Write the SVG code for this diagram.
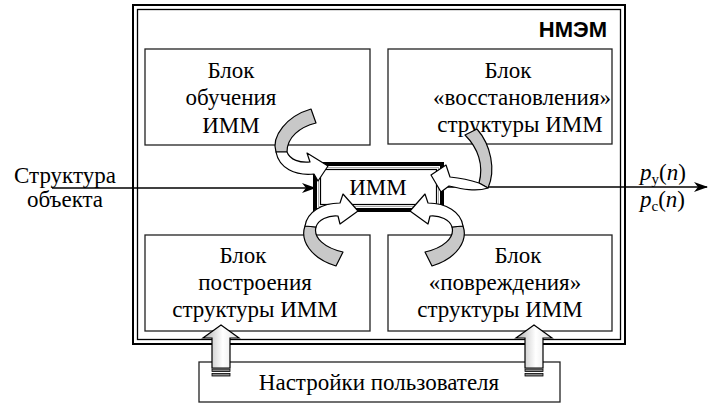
<svg xmlns="http://www.w3.org/2000/svg" width="708" height="405" viewBox="0 0 708 405">
<defs>
<linearGradient id="ug" x1="0" y1="0" x2="1" y2="0">
<stop offset="0" stop-color="#b0b0b0"/>
<stop offset="0.55" stop-color="#ffffff"/>
<stop offset="1" stop-color="#e0e0e0"/>
</linearGradient>
<marker id="ah" viewBox="0 0 14 10" refX="13" refY="5" markerWidth="14" markerHeight="10" markerUnits="userSpaceOnUse" orient="auto">
<path d="M0,0 L14,5 L0,10 L4,5 Z" fill="#000"/>
</marker>
</defs>
<rect width="708" height="405" fill="#fff"/>

<g id="nmem">
<rect x="133" y="5" width="492" height="339" fill="none" stroke="#000" stroke-width="2"/>
<rect x="137.5" y="9.5" width="483" height="330" fill="none" stroke="#000" stroke-width="1.3"/>
<text x="607" y="37" text-anchor="end" font-family="'Liberation Sans'" font-size="22" font-weight="bold">НМЭМ</text>
</g>

<g id="block-learn" fill="#000">
<rect x="145" y="49" width="225" height="96" fill="#fff" stroke="#222" stroke-width="1.3"/>
<text x="231" y="78" text-anchor="middle" font-family="'Liberation Serif'" font-size="23">Блок</text>
<text x="231" y="105" text-anchor="middle" font-family="'Liberation Serif'" font-size="23">обучения</text>
<text x="231" y="133" text-anchor="middle" font-family="'Liberation Serif'" font-size="23">ИММ</text>
</g>

<g id="block-restore">
<rect x="388" y="49" width="224" height="95" fill="#fff" stroke="#222" stroke-width="1.3"/>
<text x="508" y="78" text-anchor="middle" font-family="'Liberation Serif'" font-size="23">Блок</text>
<text x="522" y="105" text-anchor="middle" font-family="'Liberation Serif'" font-size="23">«восстановления»</text>
<text x="520" y="132" text-anchor="middle" font-family="'Liberation Serif'" font-size="23">структуры ИММ</text>
</g>

<g id="block-build">
<rect x="145" y="235" width="225" height="96" fill="#fff" stroke="#222" stroke-width="1.3"/>
<text x="243" y="263" text-anchor="middle" font-family="'Liberation Serif'" font-size="23">Блок</text>
<text x="255" y="290" text-anchor="middle" font-family="'Liberation Serif'" font-size="23">построения</text>
<text x="255" y="317" text-anchor="middle" font-family="'Liberation Serif'" font-size="23">структуры ИММ</text>
</g>

<g id="block-damage">
<rect x="388" y="235" width="224" height="96" fill="#fff" stroke="#222" stroke-width="1.3"/>
<text x="518" y="263" text-anchor="middle" font-family="'Liberation Serif'" font-size="23">Блок</text>
<text x="505" y="290" text-anchor="middle" font-family="'Liberation Serif'" font-size="23">«повреждения»</text>
<text x="500" y="317" text-anchor="middle" font-family="'Liberation Serif'" font-size="23">структуры ИММ</text>
</g>

<g id="settings">
<rect x="199" y="362" width="361" height="40" fill="#fff" stroke="#222" stroke-width="1.3"/>
<text x="379" y="390" text-anchor="middle" font-family="'Liberation Serif'" font-size="23">Настройки пользователя</text>
</g>

<g id="input-label">
<text x="65" y="183" text-anchor="middle" font-family="'Liberation Serif'" font-size="23">Структура</text>
<text x="65" y="207" text-anchor="middle" font-family="'Liberation Serif'" font-size="23">объекта</text>
</g>

<g id="output-label">
<text x="640" y="180" font-family="'Liberation Serif'" font-size="23"><tspan font-style="italic">p</tspan><tspan font-size="15" dy="4">у</tspan><tspan dy="-4">(</tspan><tspan font-style="italic">n</tspan>)</text>
<text x="640" y="207" font-family="'Liberation Serif'" font-size="23"><tspan font-style="italic">p</tspan><tspan font-size="15" dy="4">с</tspan><tspan dy="-4">(</tspan><tspan font-style="italic">n</tspan>)</text>
</g>

<g id="connectors">
<line x1="52" y1="188" x2="315" y2="188" stroke="#000" stroke-width="1.3" marker-end="url(#ah)"/>
<line x1="443" y1="187" x2="707" y2="187" stroke="#000" stroke-width="1.3" marker-end="url(#ah)"/>
</g>

<g id="imm">
<rect x="315" y="164" width="127" height="46" fill="#fff" stroke="#000" stroke-width="4"/>
<rect x="318.5" y="167.5" width="120" height="39" fill="none" stroke="#aaa" stroke-width="1"/>
<rect x="320.5" y="169.5" width="116" height="35" fill="none" stroke="#000" stroke-width="1.2"/>
<text x="378" y="195" text-anchor="middle" font-family="'Liberation Serif'" font-size="23">ИММ</text>
</g>

<g id="curved-arrows" stroke="#000" stroke-width="1.2" stroke-linejoin="round">
<path fill="#c8c8c8" d="M311,109 L316,123 C300,127 287,137 287,152 L276,152 C271,136 287,116 311,109 Z"/>
<path fill="#fff" d="M287,152 C290,160 300,163 310,162 L307,153 L328,166 L318,181 L314,174 C295,176 279,168 276,152 Z"/>
<path fill="#c8c8c8" d="M477,129 C491,145 496,170 488,188 L479,183 C484,165 478,148 465,135 Z"/>
<path fill="#fff" d="M479,183 C470,180 460,178 450,177 L446,165 L431,175 L441,192 L449,186 C462,189 476,192 488,188 Z"/>
<path fill="#c8c8c8" d="M336,266 C310,258 300,240 305,226 L316,227 C313,238 325,248 343,252 Z"/>
<path fill="#fff" d="M305,226 C307,212 322,203 340,203 L343,194 L358,211 L340,224 L338,216 C328,215 318,220 316,227 Z"/>
<path fill="#c8c8c8" d="M432,266 C458,258 468,240 463,226 L452,227 C455,238 443,248 425,252 Z"/>
<path fill="#fff" d="M463,226 C461,212 446,203 428,203 L425,194 L410,211 L428,224 L430,216 C440,215 450,220 452,227 Z"/>
</g>

<g id="settings-arrows" stroke="#000">
<path fill="url(#ug)" stroke-width="1.2" d="M221,325 L239,338 L230,338 L230,368 L212,368 L212,338 L203,338 Z"/>
<rect x="212" y="369" width="18" height="2.5" fill="#888" stroke-width="0.8"/>
<rect x="212" y="373.5" width="18" height="2.5" fill="#888" stroke-width="0.8"/>
<path fill="url(#ug)" stroke-width="1.2" d="M534,325 L552,338 L543,338 L543,368 L525,368 L525,338 L516,338 Z"/>
<rect x="525" y="369" width="18" height="2.5" fill="#888" stroke-width="0.8"/>
<rect x="525" y="373.5" width="18" height="2.5" fill="#888" stroke-width="0.8"/>
</g>
</svg>
